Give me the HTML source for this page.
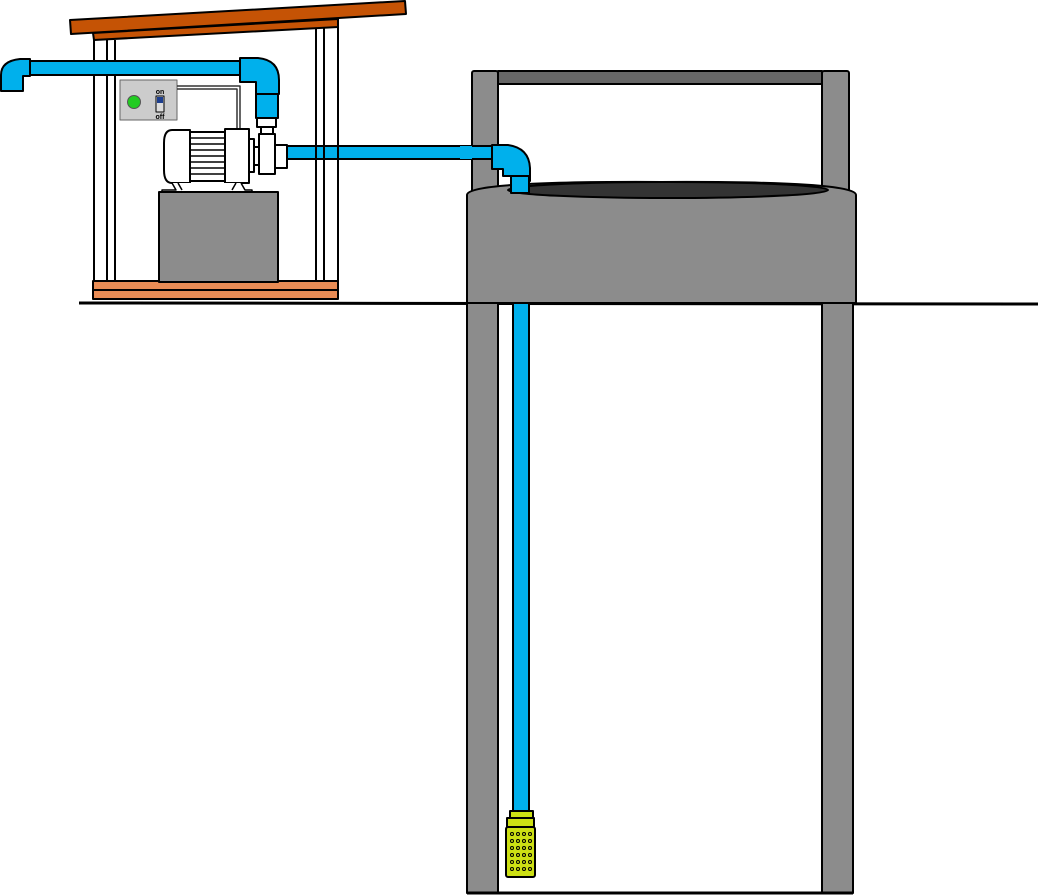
<!DOCTYPE html>
<html><head><meta charset="utf-8"><style>html,body{margin:0;padding:0;background:#fff}svg{display:block}</style></head>
<body>
<svg width="1038" height="896" viewBox="0 0 1038 896" xmlns="http://www.w3.org/2000/svg" stroke="#000" stroke-width="2" stroke-linejoin="round">
<!-- roof -->
<polygon points="70,20 405,1 406,14 71,34" fill="#c55305"/>
<polygon points="93,33 338,19 338,27 94,40" fill="#c55305"/>
<!-- pipe to well (behind right frame posts) -->
<rect x="287" y="146" width="207" height="13" fill="#00b0ec"/>
<!-- frame posts -->
<g fill="none" stroke-width="2">
<line x1="94" y1="40" x2="94" y2="282"/>
<line x1="107" y1="40" x2="107" y2="282"/>
<line x1="115" y1="40" x2="115" y2="282"/>
<line x1="316" y1="28" x2="316" y2="282"/>
<line x1="324" y1="28" x2="324" y2="282"/>
<line x1="338" y1="27" x2="338" y2="282"/>
</g>
<!-- base -->
<rect x="93" y="281" width="245" height="9" fill="#e98c55"/>
<rect x="93" y="290" width="245" height="9" fill="#e98c55"/>
<!-- ground -->
<line x1="79" y1="303" x2="1038" y2="304" stroke-width="3"/>
<!-- top pipe -->
<rect x="28" y="61" width="214" height="14" fill="#00b0ec"/>
<path d="M1,91 V75 Q1,61 20,59 H30 V76 H23 V91 Z" fill="#00b0ec"/>
<path d="M240,58 H258 Q279,60 279,80 V94 H256 V82 H240 Z" fill="#00b0ec"/>
<rect x="256" y="94" width="22" height="24" fill="#00b0ec"/>
<rect x="257" y="118" width="19" height="9" fill="#fff"/>
<rect x="261" y="127" width="12" height="8" fill="#fff"/>
<!-- control box -->
<rect x="120" y="80" width="57" height="40" fill="#ccc" stroke="#666" stroke-width="1"/>
<circle cx="134" cy="102" r="6.5" fill="#22cc22" stroke="#555" stroke-width="1"/>
<rect x="156" y="96" width="8" height="16" fill="#ddd" stroke-width="1"/>
<rect x="157" y="97" width="6" height="6" fill="#1e3f8f" stroke="none"/>
<text x="160" y="94" font-family="Liberation Sans, sans-serif" font-size="7" font-weight="bold" text-anchor="middle" stroke="none" fill="#000">on</text>
<text x="160" y="119" font-family="Liberation Sans, sans-serif" font-size="7" font-weight="bold" text-anchor="middle" stroke="none" fill="#000">off</text>
<path d="M177,86 H240 V130" fill="none" stroke="#333" stroke-width="1.5"/>
<path d="M177,89 H237 V130" fill="none" stroke="#333" stroke-width="1.5"/>
<!-- motor -->
<path d="M172,130 H190 V183 H172 Q164,183 164,170 V143 Q164,130 172,130 Z" fill="#fff"/>
<rect x="190" y="132" width="35" height="49" fill="#fff"/>
<g stroke-width="1.5">
<line x1="190" y1="138" x2="225" y2="138"/><line x1="190" y1="144" x2="225" y2="144"/>
<line x1="190" y1="150" x2="225" y2="150"/><line x1="190" y1="156" x2="225" y2="156"/>
<line x1="190" y1="162" x2="225" y2="162"/><line x1="190" y1="168" x2="225" y2="168"/>
<line x1="190" y1="174" x2="225" y2="174"/>
</g>
<rect x="225" y="129" width="24" height="54" fill="#fff"/>
<rect x="249" y="139" width="5" height="33" fill="#fff"/>
<rect x="254" y="147" width="5" height="18" fill="#fff"/>
<rect x="259" y="134" width="16" height="40" fill="#fff"/>
<rect x="275" y="145" width="12" height="23" fill="#fff"/>
<path d="M172,183 L176,190 H162 V192 H252 V190 H245 L241,183 M236,183 L232,190 M178,183 L182,190" fill="#fff" stroke-width="1.5"/>
<rect x="159" y="192" width="119" height="90" fill="#8c8c8c"/>
<!-- well -->
<rect x="472" y="71" width="26" height="122" fill="#8c8c8c" rx="2"/>
<rect x="822" y="71" width="27" height="122" fill="#8c8c8c" rx="2"/>
<rect x="498" y="71" width="324" height="13" fill="#666"/>
<rect x="460" y="146" width="34" height="13" fill="#00b0ec" stroke="none"/>
<line x1="472" y1="146" x2="494" y2="146"/><line x1="472" y1="159" x2="494" y2="159"/>
<path d="M467,195 Q467,181 661,182 Q856,181 856,195 V303 H467 Z" fill="#8c8c8c"/>
<ellipse cx="668" cy="190" rx="160" ry="8" fill="#333"/>
<path d="M492,145 H508 Q529,148 530,168 V181 H511 V176 H503 V169 H492 Z" fill="#00b0ec"/>
<rect x="511" y="176" width="18" height="17" fill="#00b0ec"/>
<rect x="467" y="303" width="31" height="590" fill="#8c8c8c"/>
<rect x="822" y="303" width="31" height="590" fill="#8c8c8c"/>
<line x1="467" y1="893" x2="853" y2="893" stroke-width="3"/>
<rect x="513" y="303" width="16" height="510" fill="#00b0ec"/>
<rect x="510" y="811" width="23" height="7" fill="#cde014"/>
<rect x="507" y="818" width="27" height="9" fill="#cde014"/>
<rect x="506" y="827" width="29" height="50" fill="#cde014" rx="2"/>
<g fill="none" stroke-width="1">
<g id="r"><circle cx="512" cy="834" r="1.5"/><circle cx="518" cy="834" r="1.5"/><circle cx="524" cy="834" r="1.5"/><circle cx="530" cy="834" r="1.5"/></g>
<use href="#r" y="7"/><use href="#r" y="14"/><use href="#r" y="21"/><use href="#r" y="28"/><use href="#r" y="35"/>
</g>
</svg>
</body></html>
